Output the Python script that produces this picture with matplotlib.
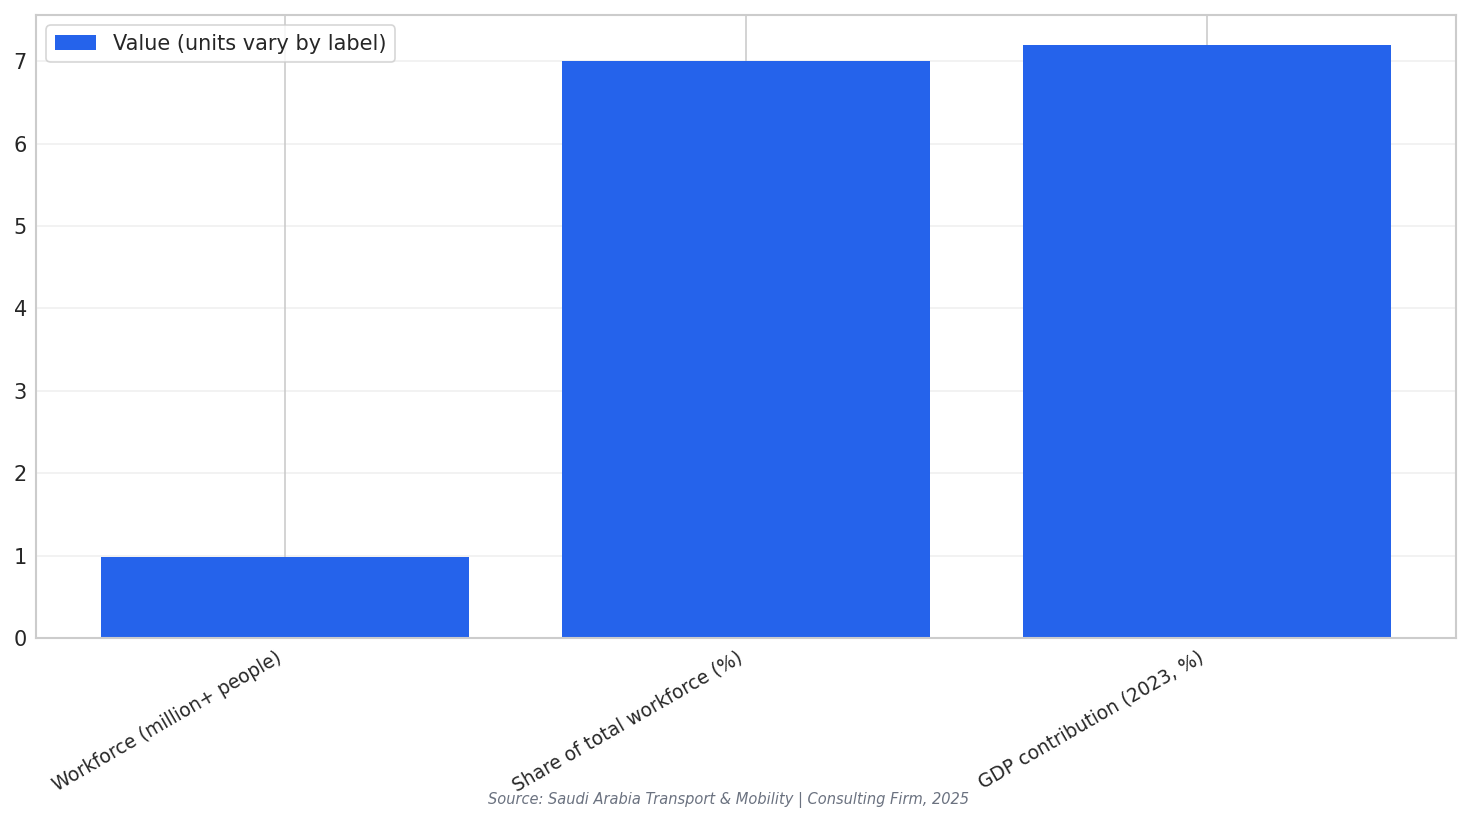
import matplotlib
matplotlib.use("Agg")
import matplotlib.pyplot as plt
import seaborn as sns

categories = ["Workforce (million+ people)", "Share of total workforce (%)", "GDP contribution (2023, %)"]
values = [0.98, 7.0, 7.2]
series_label = "Value (units vary by label)"
source_text = "Source: Saudi Arabia Transport & Mobility | Consulting Firm, 2025"

sns.set_theme(style="whitegrid")
plt.rcParams['font.family'] = ['DejaVu Sans']

fig = plt.figure(figsize=(1471/120, 824/120), dpi=120)
ax = fig.add_axes([36/1471, 1-638/824, (1456-36)/1471, (638-15)/824])
x = range(len(categories))
ax.bar(x, values, width=0.8, color="#2563EB", label=series_label, linewidth=0, zorder=2)
ax.grid(axis="y", alpha=0.3)
ax.set_xticks(list(x))
ax.set_xticklabels(categories, rotation=30, ha="right", fontsize=11.2)
ax.tick_params(axis="x", length=0, pad=6)
ax.tick_params(axis="y", labelsize=12.5, length=0, pad=5.5)
ax.legend(loc="upper left", fontsize=12.5)
fig.text(0.495, 1-800/824, source_text, ha="center", va="center", fontsize=8.8, style="italic", color="#6b7280")
fig.savefig("out.png", dpi=120)
